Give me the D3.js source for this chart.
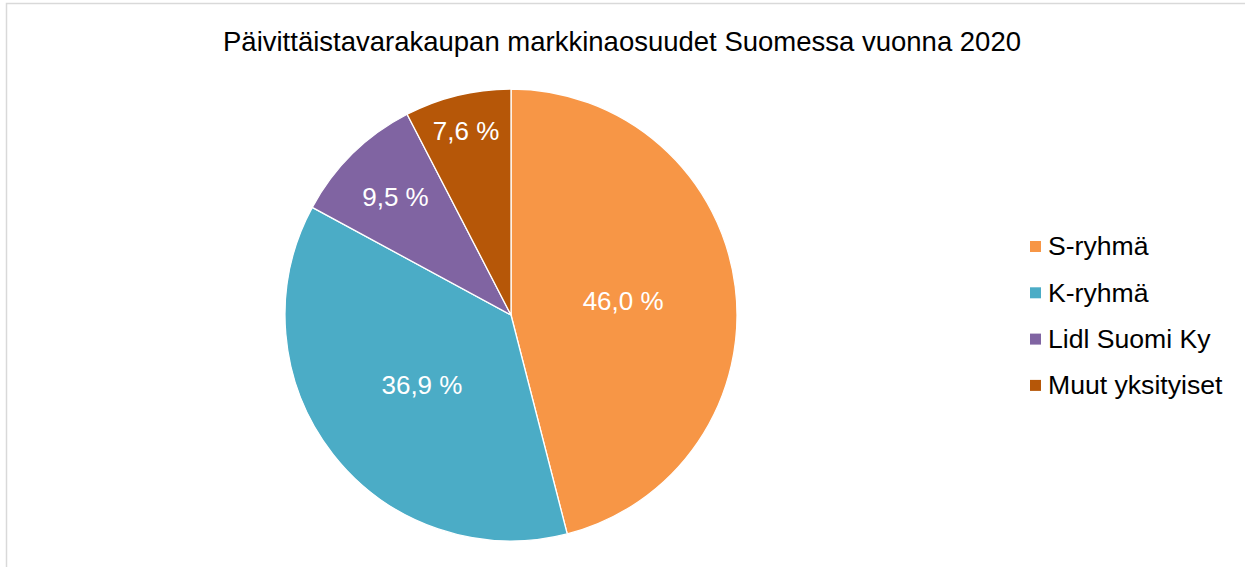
<!DOCTYPE html>
<html><head><meta charset="utf-8">
<script src="https://cdn.jsdelivr.net/npm/d3@7"></script>
<style>body{margin:0;background:#fff}svg{display:block}text{font-family:"Liberation Sans",Arial,sans-serif}</style>
</head><body><svg id="c" width="1245" height="567"></svg>
<script>
const categories = ["S-ryhmä", "K-ryhmä", "Lidl Suomi Ky", "Muut yksityiset"];
const shares = [46.0, 36.9, 9.5, 7.6];
const colors = ["#F79646", "#4BACC6", "#8064A2", "#B65708"];
const title = "Päivittäistavarakaupan markkinaosuudet Suomessa vuonna 2020";

const svg = d3.select("#c");
svg.append("rect").attr("x",6.5).attr("y",3.5).attr("width",1300).attr("height",600)
  .attr("fill","#fff").attr("stroke","#d9d9d9").attr("stroke-width",1.5);
svg.append("text").attr("x",622).attr("y",51).attr("text-anchor","middle")
  .attr("font-size",27.5).attr("fill","#000").text(title);

const cx=511, cy=315, R=226;
const pie = d3.pie().sort(null).value(d=>d)(shares);
const arc = d3.arc().innerRadius(0).outerRadius(R);
const g = svg.append("g").attr("transform",`translate(${cx},${cy})`);
g.selectAll("path").data(pie).join("path").attr("d",arc)
  .attr("fill",(d,i)=>colors[i]).attr("stroke","#fff").attr("stroke-width",1.3);

// label radius as fraction of R (layout, best-fit style)
const labelFrac = [0.5, 0.5, 0.73, 0.84];
const fmt = v => v.toFixed(1).replace(".", ",") + " %";
g.selectAll("text.l").data(pie).join("text").attr("class","l")
  .attr("transform",(d,i)=>{const a=(d.startAngle+d.endAngle)/2, r=R*labelFrac[i];
    return `translate(${r*Math.sin(a)},${-r*Math.cos(a)})`;})
  .attr("text-anchor","middle").attr("dy","0.35em").attr("font-size",26).attr("fill","#fff")
  .text((d,i)=>fmt(shares[i]));

const leg = svg.append("g").attr("transform","translate(1030,246)");
const items = leg.selectAll("g").data(categories).join("g")
  .attr("transform",(d,i)=>`translate(0,${i*46.3})`);
items.append("rect").attr("x",0).attr("y",-5).attr("width",11).attr("height",11).attr("fill",(d,i)=>colors[i]);
items.append("text").attr("x",18).attr("dy","0.35em").attr("font-size",26.6).attr("fill","#000").text(d=>d);
</script></body></html>
